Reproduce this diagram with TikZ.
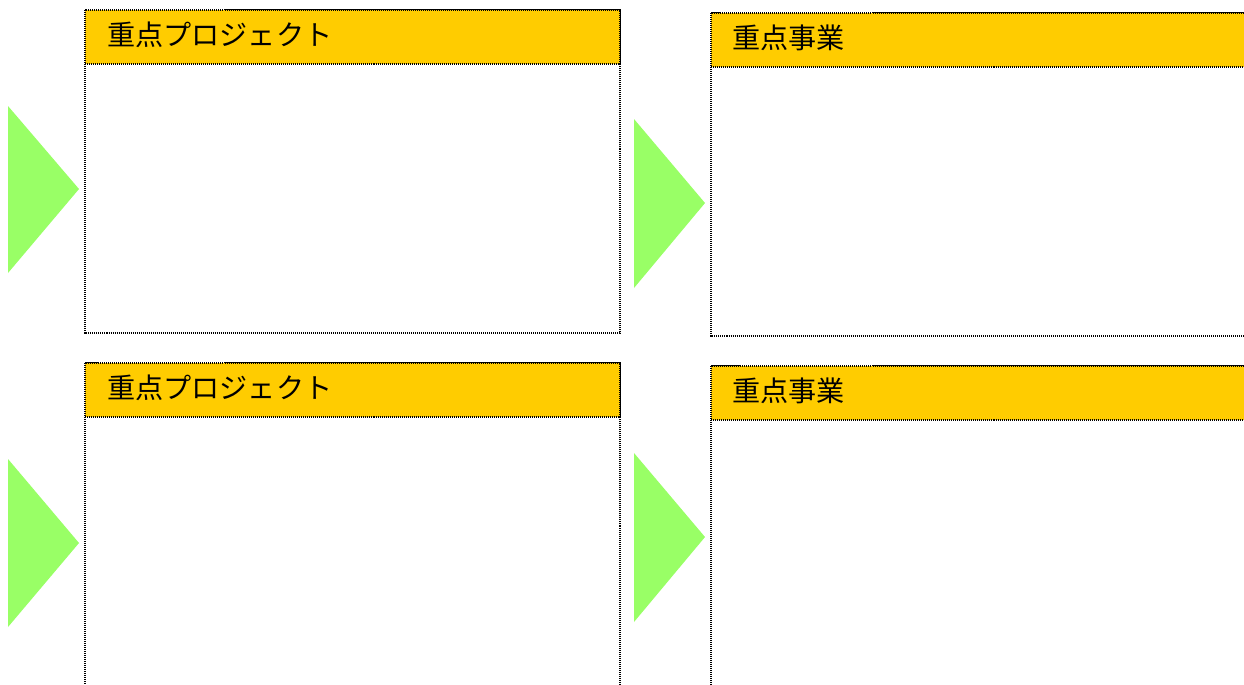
\documentclass[tikz,border=0pt]{standalone}
\usepackage{fontspec}
\setmainfont{Noto Sans CJK JP}
\usepackage{tikz}

\definecolor{headyellow}{HTML}{FFCC00}
\definecolor{arrowgreen}{HTML}{99FF66}

\begin{document}
\begin{tikzpicture}[x=0.02cm,y=-0.02cm,
  frame/.style = {draw=black,line width=0.8pt,dash pattern=on 0.57pt off 0.57pt},
  headbar/.style = {frame,fill=headyellow},
  bodybox/.style = {frame,fill=white},
  arrowtri/.style = {fill=arrowgreen,draw=none},
  title/.style = {anchor=west,inner sep=0pt,font=\fontsize{16}{19}\selectfont}]

\useasboundingbox (0,0) rectangle (1244,684);
\clip (0,0) rectangle (1244,684);

\fill[white] (0,0) rectangle (1244,684);

\draw[bodybox] (85,10) rectangle (620,333);
\draw[headbar] (85,10) rectangle (620,64);
\node[title] (proj1) at (107,35) {重点プロジェクト};

\draw[bodybox] (711,13) rectangle (1260,336);
\draw[headbar] (711,13) rectangle (1260,67);
\node[title] (biz1) at (732,38) {重点事業};

\draw[bodybox] (85,363) rectangle (620,700);
\draw[headbar] (85,363) rectangle (620,417);
\node[title] (proj2) at (107,388) {重点プロジェクト};

\draw[bodybox] (711,366) rectangle (1260,700);
\draw[headbar] (711,366) rectangle (1260,420);
\node[title] (biz2) at (732,391) {重点事業};

\fill[arrowtri] (8,106) -- (79,189) -- (8,273) -- cycle;
\fill[arrowtri] (634,119) -- (705,203) -- (634,288) -- cycle;
\fill[arrowtri] (8,459) -- (79,543) -- (8,627) -- cycle;
\fill[arrowtri] (634,453) -- (705,537) -- (634,622) -- cycle;
\end{tikzpicture}
\end{document}
